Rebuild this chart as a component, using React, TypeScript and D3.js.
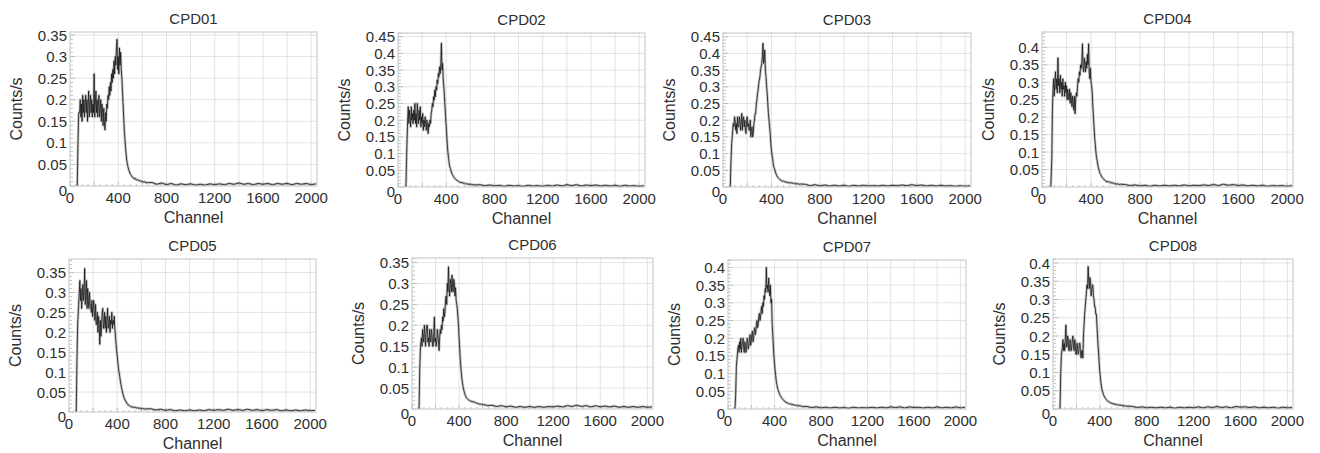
import React from "react";
import * as d3 from "d3";

// ---------- DATA ----------
const TITLES = ["CPD01", "CPD02", "CPD03", "CPD04", "CPD05", "CPD06", "CPD07", "CPD08"];

const CHANNELS_LOW = [
  60, 66, 72,
  80, 85, 90, 95, 100, 105, 110, 115, 120, 125,
  130, 135, 140, 145, 150, 155, 160, 165, 170, 175,
  180, 185, 190, 195, 200, 205, 210, 215, 220, 225,
  230, 235, 240, 245, 250, 255, 260, 265, 270, 275,
  280, 285, 290, 295, 300, 305, 310, 315, 320, 325,
  330, 335, 340, 345, 350, 355, 360, 365, 370, 375,
  380, 385, 390, 395, 400, 405, 410, 415, 420, 425,
  430, 435, 440, 445, 450, 455, 460, 465, 470, 475,
  480,
  490, 500, 510, 520, 530, 540, 550, 560, 570, 580, 590, 600, 610, 620, 630, 640,
];
const CHANNELS_TAIL = [
  680, 720, 760, 800, 840, 880, 920, 960, 1000, 1040, 1080, 1120,
  1160, 1200, 1240, 1280, 1320, 1360, 1400, 1440, 1480, 1520, 1560, 1600,
  1640, 1680, 1720, 1760, 1800, 1840, 1880, 1920, 1960, 2000, 2040,
];

const CPD01_LOW = [
  0, 0.1, 0.17,
  0.17, 0.2, 0.16, 0.19, 0.15, 0.21, 0.17, 0.2, 0.16, 0.19,
  0.21, 0.17, 0.2, 0.15, 0.19, 0.22, 0.16, 0.19, 0.21, 0.17,
  0.2, 0.16, 0.19, 0.17, 0.26, 0.16, 0.19, 0.22, 0.17, 0.2,
  0.16, 0.19, 0.21, 0.16, 0.18, 0.2, 0.15, 0.19, 0.17, 0.14,
  0.18, 0.15, 0.13, 0.17, 0.15, 0.19, 0.18, 0.21, 0.2, 0.23,
  0.21, 0.24, 0.22, 0.26, 0.24, 0.27, 0.25, 0.29, 0.26, 0.3,
  0.28, 0.32, 0.34, 0.27, 0.3, 0.26, 0.32, 0.28, 0.31, 0.27,
  0.25, 0.22, 0.19, 0.16, 0.13, 0.11, 0.09, 0.075, 0.06, 0.052,
  0.045,
  0.035, 0.028, 0.024, 0.02, 0.017, 0.018, 0.014, 0.015, 0.012, 0.013, 0.01, 0.011, 0.009, 0.01, 0.007, 0.008,
];
const CPD01_TAIL = [
  0.008, 0.004, 0.007, 0.003, 0.006, 0.002, 0.005, 0.003, 0.005, 0.002, 0.004, 0.002,
  0.005, 0.003, 0.005, 0.003, 0.006, 0.004, 0.007, 0.004, 0.006, 0.003, 0.006, 0.004,
  0.006, 0.003, 0.006, 0.004, 0.006, 0.003, 0.006, 0.004, 0.006, 0.003, 0.005,
];

const CPD02_LOW = [
  0, 0, 0.1,
  0.2, 0.24, 0.19, 0.23, 0.21, 0.18, 0.24, 0.2, 0.22, 0.19,
  0.23, 0.2, 0.25, 0.19, 0.22, 0.18, 0.25, 0.21, 0.19, 0.23,
  0.2, 0.24, 0.18, 0.21, 0.19, 0.22, 0.17, 0.2, 0.18, 0.21,
  0.19, 0.17, 0.2, 0.18, 0.16, 0.19, 0.18, 0.2, 0.19, 0.22,
  0.23, 0.25, 0.24, 0.27, 0.26, 0.29, 0.27, 0.3, 0.29, 0.32,
  0.31, 0.34, 0.33, 0.36, 0.34, 0.37, 0.43, 0.35, 0.37, 0.32,
  0.3, 0.27, 0.24, 0.21, 0.18, 0.15, 0.12, 0.1, 0.085, 0.07,
  0.06, 0.055, 0.048, 0.042, 0.038, 0.035, 0.031, 0.029, 0.026, 0.024,
  0.022,
  0.02, 0.017, 0.015, 0.013, 0.014, 0.011, 0.012, 0.009, 0.01, 0.008, 0.009, 0.007, 0.008, 0.006, 0.007, 0.006,
];
const CPD02_TAIL = [
  0.007, 0.004, 0.006, 0.003, 0.005, 0.002, 0.005, 0.003, 0.004, 0.002, 0.005, 0.003,
  0.004, 0.002, 0.005, 0.003, 0.006, 0.003, 0.007, 0.004, 0.007, 0.003, 0.006, 0.004,
  0.006, 0.003, 0.005, 0.003, 0.005, 0.002, 0.005, 0.003, 0.004, 0.002, 0.004,
];

const CPD03_LOW = [
  0, 0.08, 0.13,
  0.17, 0.19, 0.18, 0.21, 0.2, 0.17, 0.19, 0.16, 0.21, 0.18,
  0.18, 0.21, 0.2, 0.17, 0.19, 0.22, 0.17, 0.2, 0.21, 0.18,
  0.2, 0.17, 0.16, 0.2, 0.21, 0.18, 0.19, 0.17, 0.17, 0.2,
  0.15, 0.17, 0.18, 0.15, 0.16, 0.19, 0.2, 0.22, 0.22, 0.25,
  0.26, 0.28, 0.29, 0.31, 0.32, 0.33, 0.35, 0.36, 0.37, 0.39,
  0.43, 0.37, 0.38, 0.41, 0.35, 0.33, 0.3, 0.28, 0.25, 0.22,
  0.2, 0.18, 0.16, 0.13, 0.11, 0.095, 0.085, 0.07, 0.06, 0.055,
  0.048, 0.042, 0.038, 0.034, 0.03, 0.028, 0.026, 0.024, 0.022, 0.021,
  0.02,
  0.017, 0.018, 0.015, 0.016, 0.013, 0.014, 0.012, 0.013, 0.011, 0.012, 0.01, 0.011, 0.009, 0.01, 0.008, 0.009,
];
const CPD03_TAIL = [
  0.008, 0.004, 0.007, 0.003, 0.006, 0.003, 0.005, 0.003, 0.005, 0.002, 0.005, 0.003,
  0.005, 0.003, 0.004, 0.003, 0.005, 0.003, 0.005, 0.004, 0.006, 0.004, 0.007, 0.004,
  0.006, 0.003, 0.005, 0.003, 0.005, 0.003, 0.004, 0.002, 0.004, 0.002, 0.004,
];

const CPD04_LOW = [
  0, 0, 0,
  0.08, 0.22, 0.28, 0.31, 0.26, 0.3, 0.33, 0.28, 0.31, 0.27,
  0.37, 0.29, 0.31, 0.27, 0.32, 0.28, 0.3, 0.26, 0.31, 0.28,
  0.29, 0.26, 0.3, 0.27, 0.29, 0.25, 0.28, 0.26, 0.25, 0.28,
  0.24, 0.27, 0.25, 0.23, 0.26, 0.24, 0.22, 0.26, 0.21, 0.25,
  0.27, 0.26, 0.29, 0.31, 0.3, 0.33, 0.32, 0.35, 0.34, 0.36,
  0.41, 0.34, 0.33, 0.37, 0.35, 0.33, 0.36, 0.34, 0.38, 0.35,
  0.41, 0.33, 0.31, 0.34, 0.3, 0.29, 0.27, 0.23, 0.2, 0.17,
  0.14, 0.12, 0.1, 0.085, 0.075, 0.065, 0.055, 0.05, 0.042, 0.038,
  0.035,
  0.028, 0.024, 0.02, 0.017, 0.015, 0.016, 0.013, 0.014, 0.011, 0.012, 0.009, 0.01, 0.008, 0.009, 0.007, 0.008,
];
const CPD04_TAIL = [
  0.007, 0.004, 0.006, 0.003, 0.005, 0.002, 0.005, 0.003, 0.005, 0.003, 0.005, 0.003,
  0.006, 0.003, 0.005, 0.004, 0.006, 0.004, 0.007, 0.004, 0.008, 0.005, 0.007, 0.004,
  0.006, 0.003, 0.005, 0.003, 0.005, 0.002, 0.004, 0.003, 0.004, 0.002, 0.004,
];

const CPD05_LOW = [
  0, 0.13, 0.22,
  0.27, 0.3, 0.33, 0.28, 0.31, 0.26, 0.29, 0.32, 0.28, 0.3,
  0.36, 0.27, 0.3, 0.33, 0.26, 0.31, 0.28, 0.26, 0.3, 0.27,
  0.27, 0.25, 0.28, 0.24, 0.26, 0.28, 0.24, 0.23, 0.27, 0.22,
  0.22, 0.25, 0.2, 0.24, 0.22, 0.17, 0.23, 0.19, 0.22, 0.25,
  0.26, 0.21, 0.22, 0.25, 0.21, 0.24, 0.2, 0.23, 0.26, 0.21,
  0.22, 0.24, 0.2, 0.23, 0.22, 0.25, 0.21, 0.23, 0.22, 0.24,
  0.21, 0.19, 0.17, 0.155, 0.14, 0.125, 0.11, 0.1, 0.09, 0.08,
  0.07, 0.062, 0.055, 0.048, 0.042, 0.037, 0.033, 0.03, 0.027, 0.025,
  0.022,
  0.018, 0.016, 0.014, 0.012, 0.013, 0.011, 0.012, 0.01, 0.011, 0.009, 0.01, 0.008, 0.009, 0.008, 0.007, 0.008,
];
const CPD05_TAIL = [
  0.008, 0.005, 0.007, 0.004, 0.006, 0.003, 0.005, 0.003, 0.005, 0.003, 0.005, 0.003,
  0.006, 0.004, 0.006, 0.004, 0.007, 0.004, 0.006, 0.004, 0.007, 0.004, 0.006, 0.003,
  0.006, 0.004, 0.006, 0.003, 0.005, 0.003, 0.005, 0.003, 0.005, 0.003, 0.004,
];

const CPD06_LOW = [
  0, 0.1, 0.15,
  0.17, 0.15, 0.19, 0.17, 0.16, 0.2, 0.18, 0.15, 0.18, 0.2,
  0.2, 0.16, 0.17, 0.15, 0.19, 0.17, 0.16, 0.19, 0.18, 0.15,
  0.15, 0.18, 0.22, 0.16, 0.17, 0.15, 0.16, 0.19, 0.18, 0.16,
  0.14, 0.17, 0.19, 0.18, 0.2, 0.19, 0.22, 0.21, 0.24, 0.22,
  0.23, 0.26, 0.27, 0.25, 0.3, 0.28, 0.34, 0.29, 0.27, 0.31,
  0.3, 0.28, 0.32, 0.29, 0.28, 0.31, 0.3, 0.27, 0.29, 0.26,
  0.25, 0.24, 0.22, 0.2, 0.17, 0.145, 0.12, 0.1, 0.085, 0.07,
  0.06, 0.052, 0.045, 0.04, 0.035, 0.032, 0.028, 0.026, 0.025, 0.023,
  0.022,
  0.02, 0.018, 0.019, 0.016, 0.017, 0.015, 0.014, 0.013, 0.012, 0.011, 0.012, 0.01, 0.011, 0.009, 0.01, 0.008,
];
const CPD06_TAIL = [
  0.009, 0.006, 0.008, 0.005, 0.007, 0.004, 0.006, 0.004, 0.006, 0.004, 0.006, 0.004,
  0.006, 0.005, 0.007, 0.005, 0.008, 0.006, 0.009, 0.006, 0.008, 0.005, 0.008, 0.005,
  0.007, 0.005, 0.007, 0.004, 0.006, 0.004, 0.006, 0.004, 0.006, 0.004, 0.005,
];

const CPD07_LOW = [
  0, 0.04, 0.12,
  0.15, 0.17, 0.18, 0.16, 0.19, 0.17, 0.2, 0.16, 0.18, 0.19,
  0.2, 0.17, 0.16, 0.19, 0.18, 0.16, 0.17, 0.2, 0.19, 0.17,
  0.18, 0.2, 0.21, 0.18, 0.19, 0.21, 0.22, 0.19, 0.2, 0.22,
  0.23, 0.21, 0.22, 0.24, 0.25, 0.23, 0.24, 0.26, 0.27, 0.25,
  0.26, 0.28, 0.29, 0.27, 0.3, 0.29, 0.32, 0.31, 0.34, 0.33,
  0.4, 0.34, 0.35, 0.33, 0.37, 0.34, 0.32, 0.35, 0.3, 0.31,
  0.24, 0.21, 0.18, 0.15, 0.13, 0.11, 0.095, 0.08, 0.07, 0.062,
  0.055, 0.05, 0.045, 0.041, 0.038, 0.035, 0.032, 0.03, 0.028, 0.026,
  0.024,
  0.021, 0.019, 0.017, 0.016, 0.014, 0.015, 0.012, 0.013, 0.011, 0.01, 0.011, 0.009, 0.01, 0.008, 0.009, 0.007,
];
const CPD07_TAIL = [
  0.007, 0.004, 0.006, 0.003, 0.005, 0.003, 0.005, 0.003, 0.004, 0.002, 0.005, 0.003,
  0.004, 0.003, 0.005, 0.003, 0.005, 0.003, 0.006, 0.004, 0.006, 0.003, 0.006, 0.004,
  0.005, 0.003, 0.005, 0.003, 0.006, 0.003, 0.005, 0.003, 0.006, 0.003, 0.005,
];

const CPD08_LOW = [
  0, 0.1, 0.15,
  0.17, 0.19, 0.16, 0.18, 0.16, 0.19, 0.23, 0.17, 0.17, 0.2,
  0.19, 0.16, 0.16, 0.19, 0.18, 0.16, 0.17, 0.19, 0.2, 0.17,
  0.16, 0.19, 0.18, 0.15, 0.15, 0.18, 0.17, 0.15, 0.16, 0.18,
  0.18, 0.15, 0.14, 0.16, 0.16, 0.14, 0.2, 0.23, 0.26, 0.28,
  0.3, 0.32, 0.34, 0.33, 0.39, 0.35, 0.33, 0.36, 0.35, 0.31,
  0.32, 0.34, 0.34, 0.31, 0.3, 0.28, 0.28, 0.26, 0.26, 0.23,
  0.2, 0.17, 0.15, 0.12, 0.1, 0.085, 0.07, 0.06, 0.05, 0.045,
  0.04, 0.036, 0.033, 0.03, 0.028, 0.026, 0.024, 0.022, 0.021, 0.02,
  0.019,
  0.017, 0.016, 0.014, 0.015, 0.012, 0.013, 0.011, 0.012, 0.01, 0.011, 0.009, 0.01, 0.008, 0.009, 0.007, 0.008,
];
const CPD08_TAIL = [
  0.007, 0.004, 0.006, 0.003, 0.005, 0.003, 0.005, 0.003, 0.005, 0.002, 0.005, 0.003,
  0.005, 0.003, 0.006, 0.003, 0.006, 0.004, 0.007, 0.004, 0.006, 0.003, 0.007, 0.005,
  0.006, 0.004, 0.006, 0.003, 0.005, 0.003, 0.005, 0.002, 0.005, 0.003, 0.004,
];

const SERIES_LOW = [CPD01_LOW, CPD02_LOW, CPD03_LOW, CPD04_LOW, CPD05_LOW, CPD06_LOW, CPD07_LOW, CPD08_LOW];
const SERIES_TAIL = [CPD01_TAIL, CPD02_TAIL, CPD03_TAIL, CPD04_TAIL, CPD05_TAIL, CPD06_TAIL, CPD07_TAIL, CPD08_TAIL];

const X_TICKS = [0, 400, 800, 1200, 1600, 2000];
const Y_TICKS_035 = [0, 0.05, 0.1, 0.15, 0.2, 0.25, 0.3, 0.35];
const Y_TICKS_040 = [0, 0.05, 0.1, 0.15, 0.2, 0.25, 0.3, 0.35, 0.4];
const Y_TICKS_045 = [0, 0.05, 0.1, 0.15, 0.2, 0.25, 0.3, 0.35, 0.4, 0.45];
const PANEL_Y_TICKS = [Y_TICKS_035, Y_TICKS_045, Y_TICKS_045, Y_TICKS_040, Y_TICKS_035, Y_TICKS_035, Y_TICKS_040, Y_TICKS_040];
const Y_MAX = [0.357, 0.461, 0.461, 0.444, 0.384, 0.361, 0.421, 0.411];
const X_MAX = 2048;

// ---------- LAYOUT ----------
const LAYOUT = [
  { left: 70, top: 32, right: 317, bottom: 186 },
  { left: 398, top: 33, right: 645, bottom: 187 },
  { left: 723, top: 33, right: 971, bottom: 187 },
  { left: 1042, top: 32, right: 1293, bottom: 187 },
  { left: 69, top: 259, right: 316, bottom: 412 },
  { left: 412, top: 258, right: 653, bottom: 409 },
  { left: 728, top: 260, right: 966, bottom: 409 },
  { left: 1053, top: 259, right: 1293, bottom: 409 },
];

const FONT = "'Liberation Sans', Arial, Helvetica, sans-serif";
const TEXT_COLOR = "#2e2e2e";

function fmt(v: number) {
  return v === 0 ? "0" : String(Number(v.toFixed(2)));
}

function Panel({ idx }: { idx: number }) {
  const L = LAYOUT[idx];
  const x = d3.scaleLinear().domain([0, X_MAX]).range([L.left, L.right]);
  const y = d3.scaleLinear().domain([0, Y_MAX[idx]]).range([L.bottom, L.top]);
  const chans = [...CHANNELS_LOW, ...CHANNELS_TAIL];
  const vals = [...SERIES_LOW[idx], ...SERIES_TAIL[idx]];
  const n = Math.min(chans.length, vals.length);
  const pts: [number, number][] = [];
  for (let i = 0; i < n; i++) pts.push([chans[i], vals[i]]);
  const line = d3
    .line<[number, number]>()
    .x((d) => x(d[0]))
    .y((d) => y(d[1]));
  const path = line(pts) || "";
  const yTicks = PANEL_Y_TICKS[idx];
  const gridX = d3.range(200, X_MAX, 200);
  const minorX = d3.range(0, X_MAX, 50);
  const minorY = d3.range(0, Y_MAX[idx], 0.01);
  const cx = (L.left + L.right) / 2;
  const cy = (L.top + L.bottom) / 2;
  const clipId = `clip-${idx}`;
  return (
    <g>
      <defs>
        <clipPath id={clipId}>
          <rect x={L.left} y={L.top} width={L.right - L.left} height={L.bottom - L.top} />
        </clipPath>
      </defs>
      <rect x={L.left} y={L.top} width={L.right - L.left} height={L.bottom - L.top} fill="#fff" />
      {gridX.map((g) => (
        <line key={"gx" + g} x1={x(g)} x2={x(g)} y1={L.top} y2={L.bottom} stroke="#dcdcdc" strokeWidth={0.8} />
      ))}
      {yTicks.filter((t) => t > 0).map((t) => (
        <line key={"gy" + t} x1={L.left} x2={L.right} y1={y(t)} y2={y(t)} stroke="#dcdcdc" strokeWidth={0.8} />
      ))}
      {minorY.map((t, i) => (
        <line key={"my" + i} x1={L.left} x2={L.left + (i % 5 === 0 ? 5 : 3)} y1={y(t)} y2={y(t)} stroke="#aaa" strokeWidth={0.7} />
      ))}
      {minorX.map((t, i) => (
        <line key={"mx" + i} x1={x(t)} x2={x(t)} y1={L.bottom} y2={L.bottom - (i % 4 === 0 ? 4 : 2)} stroke="#aaa" strokeWidth={0.7} />
      ))}
      <g clipPath={`url(#${clipId})`}>
        <path d={path} fill="none" stroke="#8a8a8a" strokeWidth={2.6} strokeOpacity={0.5} strokeLinejoin="round" />
        <path d={path} fill="none" stroke="#151515" strokeWidth={0.8} strokeLinejoin="round" />
      </g>
      <rect x={L.left} y={L.top} width={L.right - L.left} height={L.bottom - L.top} fill="none" stroke="#c4c4c4" strokeWidth={1} />
      {X_TICKS.map((t) => (
        <text key={"xt" + t} x={x(t)} y={L.bottom + 17} textAnchor="middle" fontSize={15} fontFamily={FONT} fill={TEXT_COLOR}>
          {String(t)}
        </text>
      ))}
      {yTicks.map((t) => (
        <text
          key={"yt" + t}
          x={L.left - 3}
          y={t === 0 ? y(t) + 4 : y(t)}
          textAnchor="end"
          dominantBaseline="central"
          fontSize={15}
          fontFamily={FONT}
          fill={TEXT_COLOR}
        >
          {fmt(t)}
        </text>
      ))}
      <text x={cx} y={L.top - 8} textAnchor="middle" fontSize={15} fontFamily={FONT} fill={TEXT_COLOR}>
        {TITLES[idx]}
      </text>
      <text x={cx} y={L.bottom + 37} textAnchor="middle" fontSize={16} fontFamily={FONT} fill={TEXT_COLOR}>
        Channel
      </text>
      <text
        transform={`translate(${L.left - 54},${cy}) rotate(-90)`}
        textAnchor="middle"
        dominantBaseline="central"
        fontSize={16}
        fontFamily={FONT}
        fill={TEXT_COLOR}
      >
        Counts/s
      </text>
    </g>
  );
}

export default function App() {
  return (
    <svg
      width={1320}
      height={453}
      viewBox="0 0 1320 453"
      style={{ position: "absolute", left: 0, top: 0, background: "#fff" }}
    >
      <rect x={0} y={0} width={1320} height={453} fill="#fff" />
      {TITLES.map((_, i) => (
        <Panel key={i} idx={i} />
      ))}
    </svg>
  );
}
